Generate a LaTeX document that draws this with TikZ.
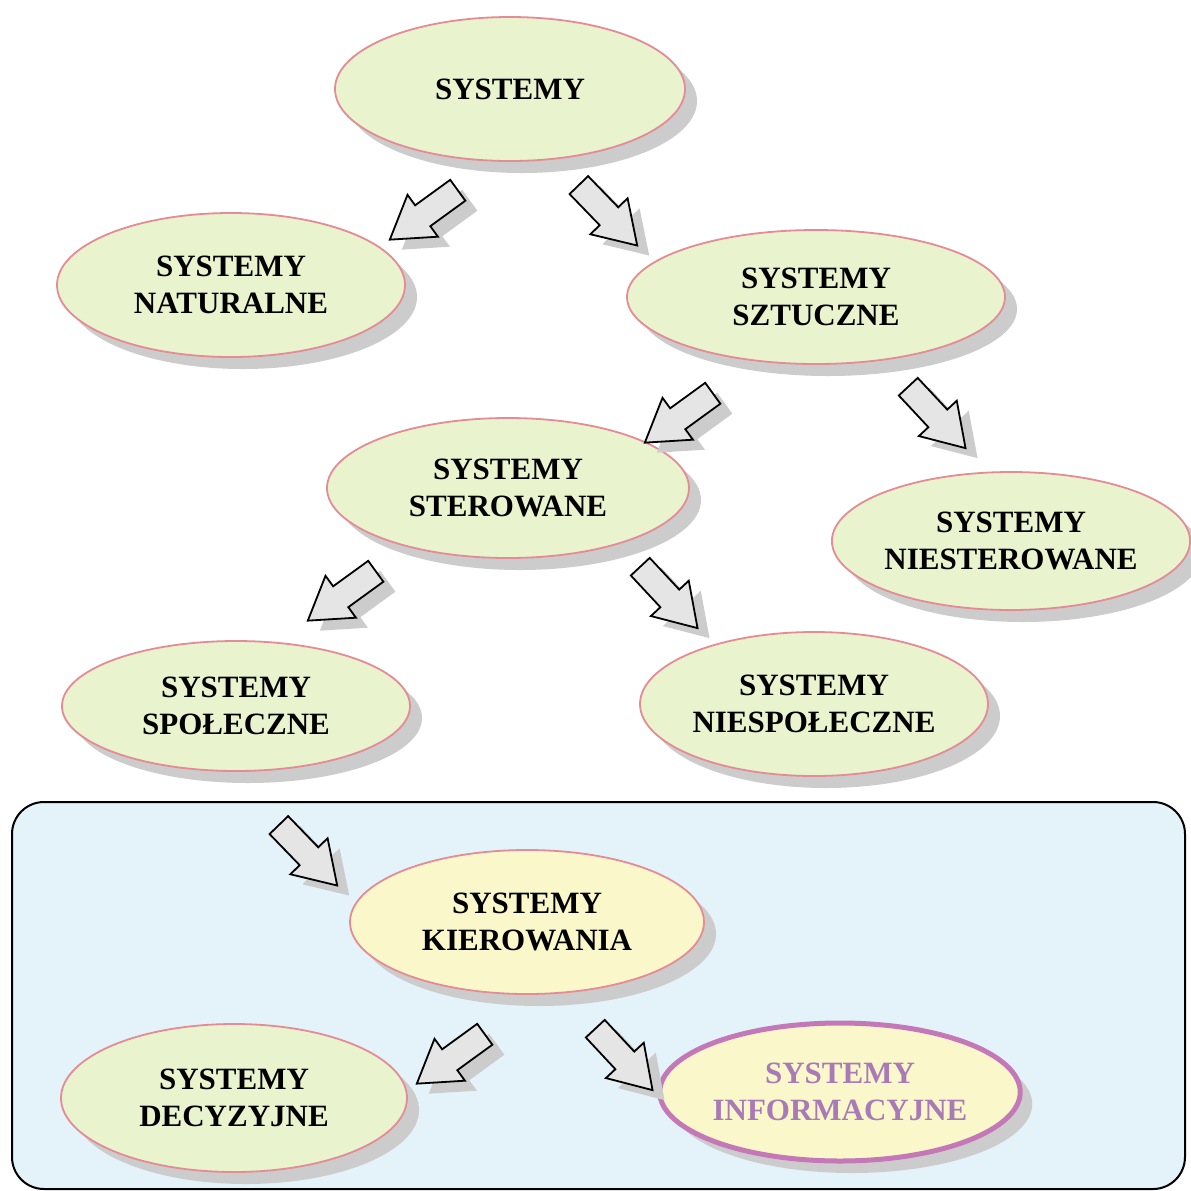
\documentclass[tikz,border=0pt]{standalone}
\usepackage{fontspec}
\setmainfont{Liberation Serif}
\usetikzlibrary{shapes.geometric,shapes.arrows,shadows}
\definecolor{elfill}{RGB}{233,243,206}
\definecolor{elyellow}{RGB}{250,248,202}
\definecolor{elborder}{RGB}{229,139,150}
\definecolor{infborder}{RGB}{196,120,184}
\definecolor{inftext}{RGB}{168,122,182}
\definecolor{boxfill}{RGB}{228,242,250}
\begin{document}
\begin{tikzpicture}[x=0.5pt,y=-0.5pt,
    sysel/.style={ellipse, draw=elborder, line width=0.9pt, fill=elfill, inner sep=0pt,
        align=center, font=\bfseries\fontsize{15.5}{18.5}\selectfont,
        drop shadow={shadow xshift=6pt, shadow yshift=-6pt, fill=black!20, opacity=1}},
    blockarrow/.style={single arrow, draw=black, line width=0.9pt, fill=black!10,
        minimum height=42pt, minimum width=25pt, inner xsep=0pt, inner ysep=6pt,
        single arrow head extend=6.5pt, single arrow tip angle=65,
        drop shadow={shadow xshift=6pt, shadow yshift=-5pt, fill=black!20, opacity=1}}]
    \useasboundingbox (0,0) rectangle (1191,1191);
    \fill[white] (0,0) rectangle (1191,1191);
    \draw[line width=1pt, fill=boxfill, rounded corners=16pt] (12,802) rectangle (1185,1189);

    \node[sysel, minimum width=175pt, minimum height=72pt] (sys) at (510,89) {SYSTEMY};
    \node[sysel, minimum width=174pt, minimum height=72pt] (nat) at (231,285) {SYSTEMY\\NATURALNE};
    \node[sysel, minimum width=189pt, minimum height=67pt] (szt) at (816,297) {SYSTEMY\\SZTUCZNE};
    \node[sysel, minimum width=181pt, minimum height=70pt] (ster) at (508,488) {SYSTEMY\\STEROWANE};
    \node[sysel, minimum width=176pt, minimum height=69pt] (niester) at (1011,541) {SYSTEMY\\NIESTEROWANE};
    \node[sysel, minimum width=174pt, minimum height=65pt] (spol) at (236,706) {SYSTEMY\\SPOŁECZNE};
    \node[sysel, minimum width=174pt, minimum height=72pt] (niespol) at (814,704) {SYSTEMY\\NIESPOŁECZNE};
    \node[sysel, fill=elyellow, minimum width=177pt, minimum height=72pt] (kier) at (527,922) {SYSTEMY\\KIEROWANIA};
    \node[sysel, minimum width=173pt, minimum height=74pt] (decyz) at (234,1098) {SYSTEMY\\DECYZYJNE};
    \node[sysel, fill=elyellow, draw=infborder, line width=2.5pt, text=inftext,
        minimum width=172pt, minimum height=69pt] (inf) at (840,1092) {SYSTEMY\\INFORMACYJNE};

    \node[blockarrow, rotate=216] (a1) at (432,209) {};
    \node[blockarrow, rotate=314] (a2) at (601,208) {};
    \node[blockarrow, rotate=216] (a3) at (687,412) {};
    \node[blockarrow, rotate=313] (a4) at (930,410) {};
    \node[blockarrow, rotate=216] (a5) at (350,590) {};
    \node[blockarrow, rotate=313] (a6) at (662,590) {};
    \node[blockarrow, rotate=314] (a7) at (301,848) {};
    \node[blockarrow, rotate=216] (a8) at (459,1053) {};
    \node[blockarrow, rotate=313] (a9) at (617,1052) {};
\end{tikzpicture}
\end{document}
